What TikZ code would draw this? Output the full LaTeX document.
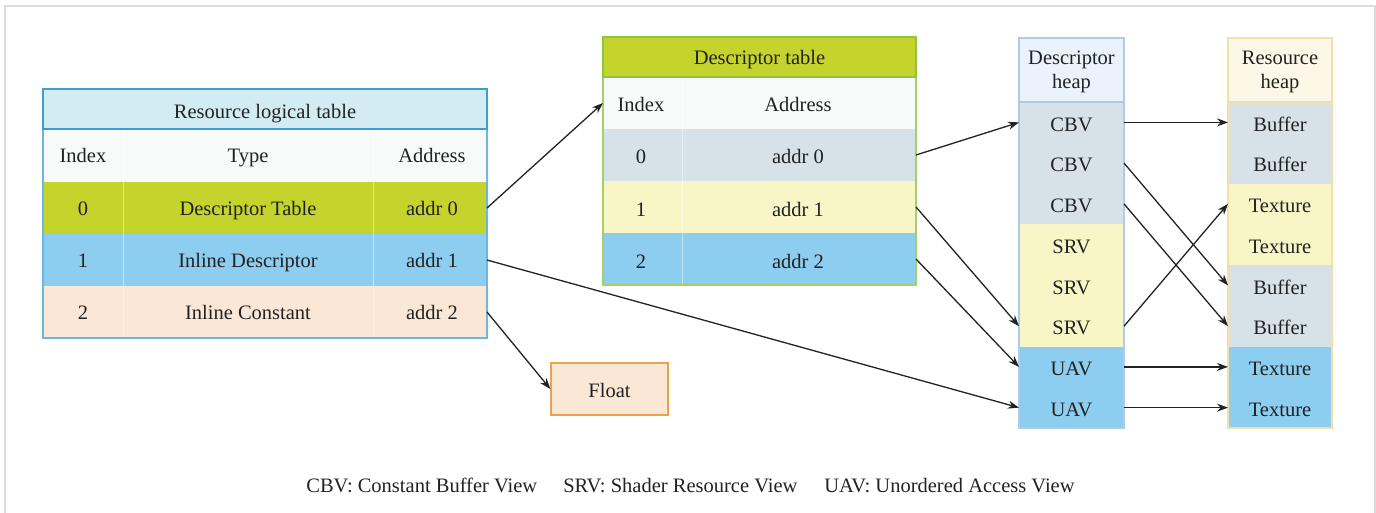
\documentclass[tikz,border=0pt]{standalone}
\usepackage{fontspec}
\setmainfont{Liberation Serif}
\usetikzlibrary{arrows.meta}

\definecolor{framegrey}{HTML}{DCDCDC}
\definecolor{rltitle}{HTML}{D3EBF3}
\definecolor{rlborder}{HTML}{3A9FD2}
\definecolor{hdrwhite}{HTML}{F8FAFA}
\definecolor{olive}{HTML}{C5D42C}
\definecolor{sky}{HTML}{8DCDF0}
\definecolor{peach}{HTML}{FBE7D5}
\definecolor{greyblue}{HTML}{D6E1E8}
\definecolor{paleyellow}{HTML}{F8F6C6}
\definecolor{dtborder}{HTML}{8DC540}
\definecolor{dhhead}{HTML}{EAF3FB}
\definecolor{dhborder}{HTML}{AECBEA}
\definecolor{rhhead}{HTML}{FDF7E7}
\definecolor{rhborder}{HTML}{F4E0A6}
\definecolor{floatborder}{HTML}{E9A348}
\definecolor{ink}{HTML}{222222}

\begin{document}
\begin{tikzpicture}[x=1pt,y=-1pt,
  font=\fontsize{20.5}{24}\selectfont, text=ink,
  band/.style={draw=none, inner sep=0pt, outer sep=0pt},
  lbl/.style={inner sep=0pt, anchor=base},
  divider/.style={draw=white, opacity=0.45, line width=0.8pt},
  arr/.style={draw=ink, line width=1.3pt, -{Stealth[length=11pt,width=8pt]}}]

\useasboundingbox (0,0) rectangle (1376,513);

% outer frame
\draw[framegrey, line width=1.5pt] (5,513) -- (5,6) -- (1375,6) -- (1375,513);

% ---------- Resource logical table ----------
\node[band, fill=rltitle, minimum width=444pt, minimum height=40pt] (lt) at (265,109) {};
\node[band, fill=hdrwhite, minimum width=444pt, minimum height=53pt] (lh) at (265,155.5) {};
\node[band, fill=olive, minimum width=444pt, minimum height=52pt] (l0) at (265,208) {};
\node[band, fill=sky, minimum width=444pt, minimum height=52pt] (l1) at (265,260) {};
\node[band, fill=peach, minimum width=444pt, minimum height=52pt] (l2) at (265,312) {};
\draw[divider] (123,129) -- (123,338);
\draw[divider] (373,129) -- (373,338);
\draw[draw=rlborder!75, line width=1.3pt] (43,129) rectangle (487,338);
\draw[draw=rlborder, line width=1.8pt] (43,89) rectangle (487,129);
\node[lbl] at (265,119) {Resource logical table};
\node[lbl] at (83,163) {Index};
\node[lbl] at (248,163) {Type};
\node[lbl] at (432,163) {Address};
\node[lbl] at (83,215) {0};
\node[lbl] at (248,215) {Descriptor Table};
\node[lbl] at (432,215) {addr 0};
\node[lbl] at (83,267) {1};
\node[lbl] at (248,267) {Inline Descriptor};
\node[lbl] at (432,267) {addr 1};
\node[lbl] at (83,319) {2};
\node[lbl] at (248,319) {Inline Constant};
\node[lbl] at (432,319) {addr 2};

% ---------- Descriptor table ----------
\node[band, fill=olive, minimum width=313pt, minimum height=40pt] (dt) at (759.5,57) {};
\node[band, fill=hdrwhite, minimum width=313pt, minimum height=52pt] (dth) at (759.5,103) {};
\node[band, fill=greyblue, minimum width=313pt, minimum height=52pt] (d0) at (759.5,155) {};
\node[band, fill=paleyellow, minimum width=313pt, minimum height=52pt] (d1) at (759.5,207) {};
\node[band, fill=sky, minimum width=313pt, minimum height=52pt] (d2) at (759.5,259) {};
\draw[divider] (682,77) -- (682,285);
\draw[draw=dtborder!80, line width=1.2pt] (603,77) rectangle (916,285);
\draw[draw=dtborder, line width=1.8pt] (603,37) rectangle (916,77);
\node[lbl] at (759.5,65) {Descriptor table};
\node[lbl] at (641,112) {Index};
\node[lbl] at (798,112) {Address};
\node[lbl] at (641,164) {0};
\node[lbl] at (798,164) {addr 0};
\node[lbl] at (641,217) {1};
\node[lbl] at (798,217) {addr 1};
\node[lbl] at (641,269) {2};
\node[lbl] at (798,269) {addr 2};

% ---------- Float ----------
\node[draw=floatborder, line width=1.3pt, fill=peach, minimum width=117pt,
      minimum height=52pt, inner sep=0pt] (float) at (609.5,389) {};
\node[lbl] at (609.5,397) {Float};

% ---------- Descriptor heap ----------
\node[band, fill=dhhead, minimum width=105pt, minimum height=64pt] (dhh) at (1071.5,70) {};
\node[lbl] at (1071.5,65) {Descriptor};
\node[lbl] at (1071.5,89) {heap};
\foreach \n/\c/\t [count=\i from 0] in
  {cbv1/greyblue/CBV, cbv2/greyblue/CBV, cbv3/greyblue/CBV,
   srv1/paleyellow/SRV, srv2/paleyellow/SRV, srv3/paleyellow/SRV,
   uav1/sky/UAV, uav2/sky/UAV}
  {\node[band, fill=\c, minimum width=105pt, minimum height=40.75pt] (\n)
    at (1071.5,{122.4+40.75*\i}) {};
   \node[lbl] at (1071.5,{131.2+40.75*\i}) {\t};}
\draw[draw=dhborder, line width=1.2pt] (1019,38) rectangle (1124,428);
\draw[draw=dhborder, line width=1.2pt] (1019,102) -- (1124,102);

% ---------- Resource heap ----------
\node[band, fill=rhhead, minimum width=104pt, minimum height=64pt] (rhh) at (1280,70) {};
\node[lbl] at (1280,65) {Resource};
\node[lbl] at (1280,89) {heap};
\foreach \n/\c/\t [count=\i from 0] in
  {r1/greyblue/Buffer, r2/greyblue/Buffer, r3/paleyellow/Texture,
   r4/paleyellow/Texture, r5/greyblue/Buffer, r6/greyblue/Buffer,
   r7/sky/Texture, r8/sky/Texture}
  {\node[band, fill=\c, minimum width=104pt, minimum height=40.75pt] (\n)
    at (1280,{122.4+40.75*\i}) {};
   \node[lbl] at (1280,{131.2+40.75*\i}) {\t};}
\draw[draw=rhborder, line width=1.2pt] (1228,38) rectangle (1332,428);
\draw[draw=rhborder, line width=1.2pt] (1228,102) -- (1332,102);

% ---------- connectors ----------
\draw[arr] (l0.east) -- (dth.west);
\draw[arr] (l1.east) -- (uav2.west);
\draw[arr] (l2.east) -- (float.west);
\draw[arr] (d0.east) -- (cbv1.west);
\draw[arr] (d1.east) -- (srv3.west);
\draw[arr] (d2.east) -- (uav1.west);
\draw[arr] (cbv1.east) -- (r1.west);
\draw[arr] (cbv2.east) -- (r5.west);
\draw[arr] (cbv3.east) -- (r6.west);
\draw[arr] (srv3.east) -- (r3.west);
\draw[arr] (uav1.east) -- (r7.west);
\draw[arr] (uav2.east) -- (r8.west);

% ---------- legend ----------
\node[lbl] (legend) at (690.5,492)
  {CBV: Constant Buffer View\hspace{26pt}SRV: Shader Resource View\hspace{27pt}UAV: Unordered Access View};
\end{tikzpicture}
\end{document}
